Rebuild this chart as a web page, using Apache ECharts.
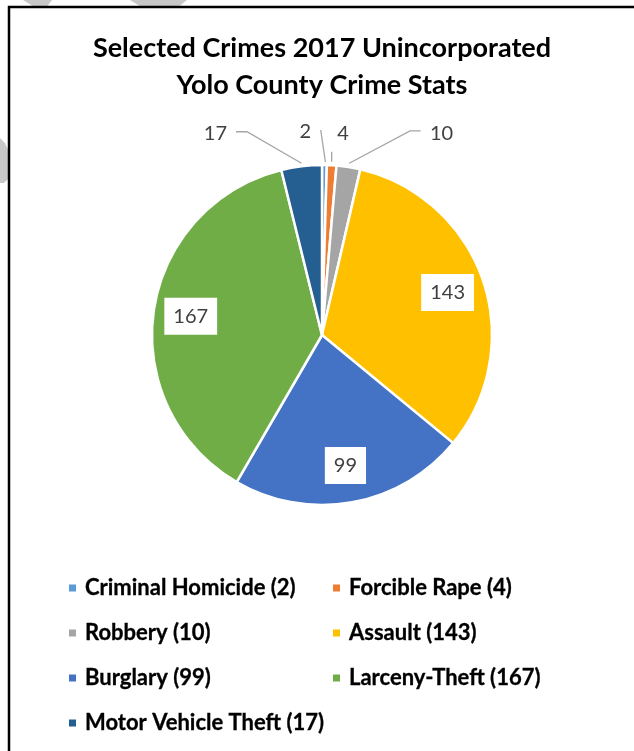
<!DOCTYPE html>
<html>
<head>
<meta charset="utf-8">
<title>Selected Crimes 2017 Unincorporated Yolo County Crime Stats</title>
<script src="https://cdn.jsdelivr.net/npm/echarts@6/dist/echarts.min.js"></script>
<style>
  html, body { margin: 0; padding: 0; background: #fff; }
  #chart { width: 634px; height: 751px; }
</style>
</head>
<body>
<div id="chart"></div>
<script>
// Crime categories and their 2017 counts
const categories = ['Criminal Homicide', 'Forcible Rape', 'Robbery', 'Assault', 'Burglary', 'Larceny-Theft', 'Motor Vehicle Theft'];
const counts = [2, 4, 10, 143, 99, 167, 17];
const sliceColors = ['#5B9BD5', '#ED7D31', '#A5A5A5', '#FFC000', '#4472C4', '#70AD47', '#255E91'];
const labelPlacement = ['outside', 'outside', 'outside', 'inside', 'inside', 'inside', 'outside'];
const chartTitle = 'Selected Crimes 2017 Unincorporated\nYolo County Crime Stats';

const PIE_CENTER = [322, 335];
const PIE_RADIUS = 170;
const INSIDE_RATIO = 0.78;   // inside labels sit at this fraction of the radius

// Leader-line shape for the small outside slices, relative to the slice edge point
const leaderStyle = {
  0: { line: [[1, -3], [-3.7, -35]], label: [-19, -33], align: 'center' },
  1: { line: [[0, -3.5], [0, -13.5]], label: [11.3, -31.5], align: 'center' },
  2: { line: [[0.8, -3.8], [61.5, -36.1], [72.2, -36.1]], label: [81.5, -33.8], align: 'left' },
  6: { line: [[0, -3], [-54.5, -34.5], [-65.5, -34.5]], label: [-74.5, -32.7], align: 'right' }
};

const valueFont = { fontFamily: 'Lato', fontSize: 20, color: '#404040', formatter: '{c}' };

const pieData = categories.map((name, i) => {
  const inside = labelPlacement[i] === 'inside';
  return {
    name: name,
    value: counts[i],
    itemStyle: { color: sliceColors[i] },
    label: inside
      ? Object.assign({ position: 'inside', backgroundColor: '#fff', padding: [8, 9, 8, 9], lineHeight: 21 }, valueFont)
      : Object.assign({ position: 'outside' }, valueFont),
    labelLine: { show: !inside }
  };
});

const chart = echarts.init(document.getElementById('chart'), null, { renderer: 'canvas' });

chart.setOption({
  backgroundColor: '#fff',
  animation: false,
  graphic: [
    // faint marks of the surrounding page
    { type: 'polygon', z: -10, shape: { points: [[23, 0], [52, 0], [46, 8], [36, 8]] }, style: { fill: '#C8C8C8' } },
    { type: 'polygon', z: -10, shape: { points: [[130, 0], [187, 0], [177, 8], [143, 8]] }, style: { fill: '#C8C8C8' } },
    { type: 'polygon', z: -10, shape: { points: [[0, 138], [5, 143], [9, 152], [9, 178], [4, 183], [0, 183]] }, style: { fill: '#C8C8C8' } },
    { type: 'text', z: -10, left: -5, top: 62, style: { text: ')', font: '20px Lato', fill: '#000' } },
    { type: 'text', z: -10, left: -5, top: 390, style: { text: ')', font: '20px Lato', fill: '#000' } },
    // chart frame
    { type: 'rect', z: -5, shape: { x: 9, y: 7, width: 700, height: 800 }, style: { fill: '#fff', stroke: '#000', lineWidth: 2.5 } }
  ],
  title: {
    text: chartTitle,
    left: 317,
    top: 25,
    textAlign: 'center',
    textStyle: { fontFamily: 'Lato', fontWeight: 'bold', fontSize: 27, lineHeight: 37, color: '#000' }
  },
  legend: {
    left: 62,
    top: 571,
    width: 560,
    orient: 'horizontal',
    itemWidth: 9,
    itemHeight: 9,
    itemGap: 21,
    icon: 'rect',
    formatter: name => `${name} (${counts[categories.indexOf(name)]})`,
    textStyle: {
      fontFamily: 'Lato', fontWeight: 'bold', fontSize: 22, lineHeight: 24, color: '#000',
      textBorderColor: '#000', textBorderWidth: 0.3,
      width: 225, padding: [0, 0, 0, 3]
    },
    data: categories
  },
  series: [{
    type: 'pie',
    center: PIE_CENTER,
    radius: PIE_RADIUS,
    startAngle: 90,
    clockwise: true,
    avoidLabelOverlap: false,
    itemStyle: { borderColor: '#fff', borderWidth: 2.5 },
    labelLine: { length: 15, length2: 10, lineStyle: { color: '#A5A5A5', width: 1.3 } },
    emphasis: { disabled: true },
    data: pieData,
    labelLayout: function (params) {
      const i = params.dataIndex;
      const r = params.labelRect;
      if (labelPlacement[i] === 'inside') {
        const lx = r.x + r.width / 2, ly = r.y + r.height / 2;
        const dx = lx - PIE_CENTER[0], dy = ly - PIE_CENTER[1];
        const len = Math.sqrt(dx * dx + dy * dy) || 1;
        const d = PIE_RADIUS * INSIDE_RATIO;
        return {
          x: PIE_CENTER[0] + dx / len * d,
          y: PIE_CENTER[1] + dy / len * d,
          align: 'center',
          verticalAlign: 'middle'
        };
      }
      const s = leaderStyle[i];
      const pts = params.labelLinePoints;
      if (!s || !pts) return {};
      const p0 = pts[0];
      return {
        x: p0[0] + s.label[0],
        y: p0[1] + s.label[1],
        align: s.align,
        verticalAlign: 'middle',
        labelLinePoints: s.line.map(o => [p0[0] + o[0], p0[1] + o[1]])
      };
    }
  }]
});
</script>
</body>
</html>
